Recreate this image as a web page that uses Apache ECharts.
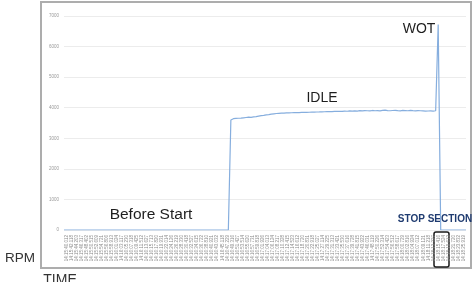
<!DOCTYPE html>
<html>
<head>
<meta charset="utf-8">
<script src="https://cdn.jsdelivr.net/npm/echarts@6/dist/echarts.min.js"></script>
<style>
html,body{margin:0;padding:0;background:#fff;}
#chart{width:476px;height:282px;}
</style>
</head>
<body>
<div id="chart"></div>
<script>
// time stamps shown under the x axis (one every other sample)
var timeLabels = [
 '14:15:40.012','14:15:42.118','14:15:44.203','14:15:46.317','14:15:48.402','14:15:50.515','14:15:52.609','14:15:54.721','14:15:56.806','14:15:58.913',
 '14:16:01.024','14:16:03.117','14:16:05.230','14:16:07.318','14:16:09.425','14:16:11.512','14:16:13.627','14:16:15.713','14:16:17.820','14:16:19.931',
 '14:16:22.014','14:16:24.126','14:16:26.219','14:16:28.330','14:16:30.418','14:16:32.527','14:16:34.615','14:16:36.722','14:16:38.810','14:16:40.921',
 '14:16:43.032','14:16:45.118','14:16:47.229','14:16:49.316','14:16:51.427','14:16:53.514','14:16:55.620','14:16:57.731','14:16:59.818','14:17:01.926',
 '14:17:04.013','14:17:06.124','14:17:08.217','14:17:10.328','14:17:12.415','14:17:14.523','14:17:16.612','14:17:18.720','14:17:20.831','14:17:22.918',
 '14:17:25.027','14:17:27.114','14:17:29.225','14:17:31.313','14:17:33.421','14:17:35.530','14:17:37.616','14:17:39.728','14:17:41.815','14:17:43.922',
 '14:17:46.031','14:17:48.119','14:17:50.226','14:17:52.314','14:17:54.423','14:17:56.512','14:17:58.617','14:18:00.729','14:18:02.816','14:18:04.924',
 '14:18:07.012','14:18:09.121','14:18:11.218','14:18:13.327','14:18:15.416','14:18:17.524','14:18:19.613','14:18:21.720','14:18:23.832','14:18:25.919'
];

// rpm samples (160 samples)
var rpmBefore = [
 0,0,0,0,0,0,0,0,0,0, 0,0,0,0,0,0,0,0,0,0,
 0,0,0,0,0,0,0,0,0,0, 0,0,0,0,0,0,0,0,0,0,
 0,0,0,0,0,0,0,0,0,0, 0,0,0,0,0,0,0,0,0,0,
 0,0,0,0,0,0
];
var rpmIdle = [
 3600,3640,3650,3655,3660,3670,3680,3690,3685,3700,
 3710,3725,3740,3750,3765,3775,3790,3800,3810,3815,
 3820,3825,3830,3832,3835,3838,3840,3842,3845,3848,
 3850,3852,3855,3858,3860,3862,3865,3868,3870,3872,
 3875,3878,3880,3885,3880,3890,3885,3895,3890,3898,
 3890,3902,3895,3905,3900,3895,3910,3900,3905,3898,
 3912,3920,3905,3900,3908,3915,3902,3898,3910,3905,
 3900,3912,3904,3898,3906,3900,3895,3888,3892,3895,
 3890,3900
];
var rpmWot = [6720];
var rpmStop = [0,0,0,0,0,0,0,0,0,0,0];
var rpm = rpmBefore.concat(rpmIdle, rpmWot, rpmStop);

var yTicks = [0, 1000, 2000, 3000, 4000, 5000, 6000, 7000];

var chart = echarts.init(document.getElementById('chart'));
var font = '"Liberation Sans", Arial, sans-serif';

var option = {
    animation: false,
    grid: {left: 64, top: 16, width: 402, height: 214},
    xAxis: [
        {
            type: 'category',
            data: timeLabels,
            boundaryGap: true,
            axisLine: {show: false},
            axisTick: {show: false},
            axisLabel: {
                interval: 0,
                rotate: 90,
                margin: 5,
                fontSize: 4.5,
                color: '#8a8a8a',
                fontFamily: font
            }
        },
        {
            type: 'value',
            min: 0,
            max: rpm.length - 1,
            show: false
        }
    ],
    yAxis: {
        type: 'value',
        min: yTicks[0],
        max: yTicks[yTicks.length - 1],
        interval: 1000,
        axisLine: {show: false},
        axisTick: {show: false},
        axisLabel: {
            margin: 5,
            fontSize: 4.5,
            color: '#9a9a9a',
            fontFamily: font,
            formatter: function (v) { return String(v); }
        },
        splitLine: {lineStyle: {color: '#ececec', width: 1}}
    },
    series: [{
        type: 'line',
        xAxisIndex: 1,
        data: rpm.map(function (v, i) { return [i, v]; }),
        showSymbol: false,
        lineStyle: {color: '#86aede', width: 1.2}
    }],
    graphic: [
        {
            type: 'rect',
            shape: {x: 41, y: 2, width: 430, height: 266},
            style: {fill: 'none', stroke: '#adadad', lineWidth: 2},
            silent: true
        },
        {
            type: 'text', x: 151, y: 215,
            style: {text: 'Before Start', font: '15.5px ' + font, fill: '#1e1e1e', textAlign: 'center', textVerticalAlign: 'middle'}
        },
        {
            type: 'text', x: 322, y: 98,
            style: {text: 'IDLE', font: '14px ' + font, fill: '#1e1e1e', textAlign: 'center', textVerticalAlign: 'middle'}
        },
        {
            type: 'text', x: 419, y: 29,
            style: {text: 'WOT', font: '14px ' + font, fill: '#1e1e1e', textAlign: 'center', textVerticalAlign: 'middle'}
        },
        {
            type: 'text', x: 435, y: 219,
            style: {text: 'STOP SECTION', font: 'bold 10px ' + font, fill: '#1f3b70', textAlign: 'center', textVerticalAlign: 'middle'}
        },
        {
            type: 'rect',
            shape: {x: 434, y: 232, width: 15, height: 35, r: 2},
            style: {fill: 'none', stroke: '#1a1a1a', lineWidth: 1.5}
        },
        {
            type: 'text', x: 20, y: 258,
            style: {text: 'RPM', font: '13.5px ' + font, fill: '#333', textAlign: 'center', textVerticalAlign: 'middle'}
        },
        {
            type: 'text', x: 60, y: 280,
            style: {text: 'TIME', font: '14px ' + font, fill: '#333', textAlign: 'center', textVerticalAlign: 'middle'}
        }
    ]
};
chart.setOption(option);
</script>
</body>
</html>
